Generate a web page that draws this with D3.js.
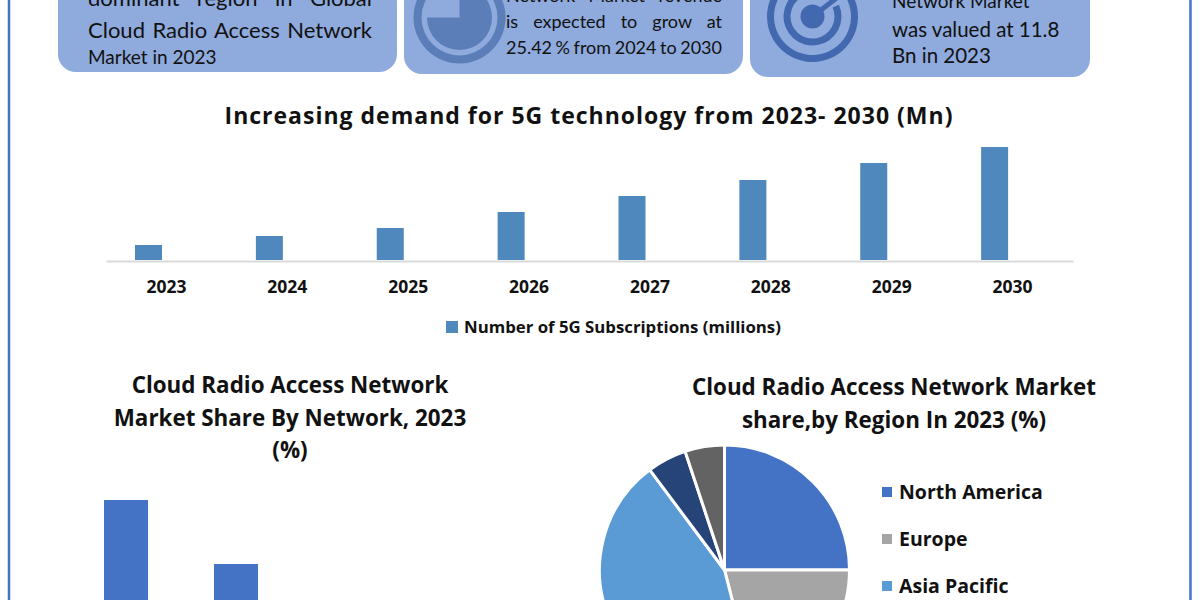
<!DOCTYPE html>
<html><head><meta charset="utf-8">
<script src="https://cdn.jsdelivr.net/npm/d3@7"></script>
<style>
html,body{margin:0;padding:0;background:#fff;overflow:hidden}
svg{display:block}
text{fill:#111}
.card{font-family:Lato,sans-serif}
.bold{font-family:"Open Sans",sans-serif;font-weight:700}
</style></head><body><svg id="c" width="1200" height="600"></svg>
<script>
const years = ["2023","2024","2025","2026","2027","2028","2029","2030"];
const subscriptions = [300,480,640,960,1280,1600,1940,2260];
const subscriptionSeries = "Number of 5G Subscriptions (millions)";
const subscriptionTitle = "Increasing demand for 5G technology from 2023- 2030 (Mn)";
const networkTitle = ["Cloud Radio Access Network","Market Share By Network, 2023","(%)"];
const networkCats = ["Type A","Type B"];
const networkShare = [45,29];
const regionTitle = ["Cloud Radio Access Network Market","share,by Region In 2023 (%)"];
const regions = ["North America","Europe","Asia Pacific","Middle East & Africa","South America"];
const regionShare = [25,21,43.8,5.1,5.1];
const regionColors = ["#4472c4","#a5a5a5","#5b9bd5","#264478","#636363"];
const visibleRegions = 3;

const svg = d3.select("#c");
const cardFill = "#8faadc";

// page frame
svg.append("line").attr("x1",9).attr("x2",9).attr("y1",0).attr("y2",600).attr("stroke","#4472c4").attr("stroke-width",2.5);
svg.append("line").attr("x1",1190.5).attr("x2",1190.5).attr("y1",0).attr("y2",600).attr("stroke","#4472c4").attr("stroke-width",2.5);

// cards
[[58,397,72],[404,743,74],[750,1090,77]].forEach(([a,b,c])=>{
  svg.append("rect").attr("x",a).attr("y",-30).attr("width",b-a).attr("height",c+30).attr("rx",18).attr("fill",cardFill);
});

function line(t,x,y,size,width){
  const el = svg.append("text").attr("class","card").attr("x",x).attr("y",y).attr("font-size",size).text(t);
  if(width){
    const gaps = t.split(" ").length-1, w = el.node().getComputedTextLength();
    el.attr("word-spacing",(width-w)/gaps);
  }
}
line("dominant region in Global",88,6,22,284);
line("Cloud Radio Access Network",88,38,22,284);
line("Market in 2023",88,64,19);
line("Network Market revenue",506,2,18,216);
line("is expected to grow at",506,28,18,216);
line("25.42 % from 2024 to 2030",506,54,18,216);
line("Network Market",892,8,19);
line("was valued at 11.8",892,37,20.5);
line("Bn in 2023",892,63,20.5);

// pie icon
const iconA = d3.arc();
const ic1 = svg.append("g").attr("transform","translate(459.5,17.5)");
ic1.append("path").attr("fill","#5b7db8").attr("d",iconA({innerRadius:38,outerRadius:46,startAngle:0,endAngle:2*Math.PI}));
ic1.append("path").attr("fill","#5b7db8").attr("d",iconA({innerRadius:0,outerRadius:32.5,startAngle:0,endAngle:1.5*Math.PI}));

// radar icon
const ic2 = svg.append("g").attr("transform","translate(812.5,16.5)");
ic2.append("path").attr("fill","#4269b0").attr("d",iconA({innerRadius:38.5,outerRadius:45.5,startAngle:0.9,endAngle:2*Math.PI+0.3}));
ic2.append("path").attr("fill","#4269b0").attr("d",iconA({innerRadius:22,outerRadius:29,startAngle:1.15,endAngle:2*Math.PI+0.3}));
ic2.append("circle").attr("r",12).attr("fill","#4269b0");
ic2.append("line").attr("x1",0).attr("y1",0).attr("x2",26).attr("y2",-20).attr("stroke","#4269b0").attr("stroke-width",5);

// top bar chart
const x = d3.scaleBand().domain(years).range([106,1073]);
const y = d3.scaleLinear().domain([0,d3.max(subscriptions)]).range([260,147]);
const barW = 27;
svg.selectAll(".sub").data(years).join("rect").attr("class","sub")
  .attr("x",d=>x(d)+29).attr("width",barW)
  .attr("y",(d,i)=>y(subscriptions[i])).attr("height",(d,i)=>260-y(subscriptions[i]))
  .attr("fill","#4f88bd");
const ax = svg.append("g").attr("transform","translate(0,261)").call(d3.axisBottom(x).tickSize(0).tickPadding(20));
ax.select(".domain").attr("stroke","#d9d9d9").attr("stroke-width",2);
ax.selectAll("text").attr("class","bold").attr("font-size",17.5).style("fill","#111").style("font-family",'"Open Sans",sans-serif').style("font-weight",700);

svg.append("text").attr("class","bold").attr("x",589).attr("y",124).attr("text-anchor","middle").attr("font-size",23).attr("letter-spacing",1).text(subscriptionTitle);
svg.append("rect").attr("x",446).attr("y",321).attr("width",12).attr("height",12).attr("fill","#4f88bd");
svg.append("text").attr("class","bold").attr("x",464).attr("y",333).attr("font-size",16.8).text(subscriptionSeries);

// network title
networkTitle.forEach((t,i)=>svg.append("text").attr("class","bold").attr("x",290).attr("y",393+i*32.5).attr("text-anchor","middle").attr("font-size",22.4).text(t));
regionTitle.forEach((t,i)=>svg.append("text").attr("class","bold").attr("x",894).attr("y",395+i*33).attr("text-anchor","middle").attr("font-size",22.4).text(t));

// network bars (run past the bottom of the frame)
const nx = d3.scaleBand().domain(networkCats).range([76.5,296.5]).paddingInner(0.5).paddingOuter(0.25);
const ny = d3.scaleLinear().domain([0,45]).range([680,500]);
svg.selectAll(".net").data(networkCats).join("rect").attr("class","net")
  .attr("x",d=>nx(d)).attr("width",44)
  .attr("y",(d,i)=>ny(networkShare[i])).attr("height",(d,i)=>680-ny(networkShare[i]))
  .attr("fill","#4472c4");

// region pie
const pie = d3.pie().sort(null)(regionShare);
const arc = d3.arc().innerRadius(0).outerRadius(125);
const pg = svg.append("g").attr("transform","translate(724.5,570)");
pg.selectAll("path").data(pie).join("path").attr("d",arc)
  .attr("fill",(d,i)=>regionColors[i]).attr("stroke","#fff").attr("stroke-width",3);

const ly = d3.scalePoint().domain(regions.slice(0,visibleRegions)).range([492,586]);
regions.slice(0,visibleRegions).forEach((r,i)=>{
  svg.append("rect").attr("x",882).attr("y",ly(r)-5).attr("width",10).attr("height",10).attr("fill",regionColors[i]);
  svg.append("text").attr("class","bold").attr("x",899).attr("y",ly(r)+7).attr("font-size",19.5).text(r);
});
</script></body></html>
